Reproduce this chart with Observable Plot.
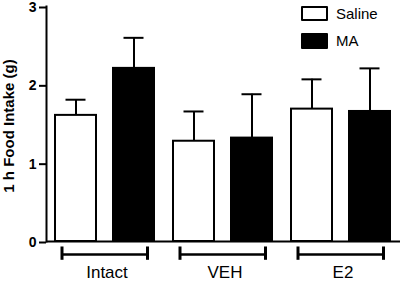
<!DOCTYPE html>
<html>
<head>
<meta charset="utf-8">
<script src="https://cdn.jsdelivr.net/npm/d3@7"></script>
<script src="https://cdn.jsdelivr.net/npm/@observablehq/plot@0.6"></script>
<style>
  html, body { margin: 0; padding: 0; background: #fff; }
  #wrap { position: relative; width: 402px; height: 281px; font-family: "Liberation Sans", Arial, sans-serif; }
  .leg { position: absolute; left: 301px; display: flex; align-items: center; font-size: 15px; color: #000; }
  .sw { width: 23px; height: 11px; border: 2px solid #000; border-radius: 1px; margin-right: 8px; }
</style>
</head>
<body>
<div id="wrap">
  <div id="chart"></div>
  <div class="leg" style="top:5px"><div class="sw" style="background:#fff"></div>Saline</div>
  <div class="leg" style="top:32px"><div class="sw" style="background:#000;height:12px"></div>MA</div>
</div>
<script>
const groups = ["Intact", "VEH", "E2"];
const treatments = ["Saline", "MA"];
const salineMean = [1.61, 1.28, 1.69];
const salineUpper = [1.81, 1.66, 2.07];
const maMean = [2.21, 1.32, 1.66];
const maUpper = [2.60, 1.88, 2.21];
const yTicks = [0, 1, 2, 3];
const yTitle = "1 h Food Intake (g)";

const data = [];
groups.forEach((g, i) => {
  data.push({group: g, treatment: "Saline", value: salineMean[i], upper: salineUpper[i]});
  data.push({group: g, treatment: "MA", value: maMean[i], upper: maUpper[i]});
});

const chart = Plot.plot({
  width: 402,
  height: 281,
  marginLeft: 45,
  marginRight: 2,
  marginTop: 6,
  marginBottom: 40,
  style: {fontFamily: "Liberation Sans, Arial, sans-serif", color: "#000", background: "#fff", overflow: "visible"},
  fx: {domain: groups, padding: 0, axis: null},
  x: {domain: treatments, paddingInner: 0.29, paddingOuter: 0.147, axis: null},
  y: {domain: [0, 3], ticks: yTicks, axis: null},
  color: {domain: treatments, range: ["#fff", "#000"]},
  marks: [
    Plot.axisY({ticks: yTicks, tickSize: 7, tickPadding: 3, fontSize: 14, fontWeight: "bold",
      strokeWidth: 2, label: null, tickFormat: d3.format("d"), dy: 1}),
    Plot.text([yTitle], {frameAnchor: "left", facetAnchor: "left", rotate: -90, dx: -37, dy: 2,
      text: d => d, fontSize: 15, fontWeight: "bold", fill: "#000", textAnchor: "middle", lineAnchor: "middle"}),
    Plot.frame({anchor: "left", facetAnchor: "left", strokeWidth: 2}),
    Plot.ruleX(data, {fx: "group", x: "treatment", y1: "value", y2: "upper", strokeWidth: 2}),
    Plot.tickY(data, {fx: "group", x: "treatment", y: "upper", strokeWidth: 2, insetLeft: 10.5, insetRight: 10.5}),
    Plot.barY(data, {fx: "group", x: "treatment", y: "value", fill: "treatment", stroke: "#000", strokeWidth: 2}),
    Plot.ruleY([0], {strokeWidth: 2}),
    Plot.ruleY(groups, {fx: d => d, y: -0.165, strokeWidth: 2.5, insetLeft: 16, insetRight: 15}),
    Plot.ruleX(groups, {fx: d => d, x: () => "Saline", y1: -0.07, y2: -0.24, dx: -14, strokeWidth: 3}),
    Plot.ruleX(groups, {fx: d => d, x: () => "MA", y1: -0.07, y2: -0.24, dx: 13.5, strokeWidth: 3}),
    Plot.text(groups, {fx: d => d, y: -0.39, dx: 1.5, text: d => d, fontSize: 17, fill: "#000"})
  ]
});
document.getElementById("chart").appendChild(chart);
</script>
</body>
</html>
